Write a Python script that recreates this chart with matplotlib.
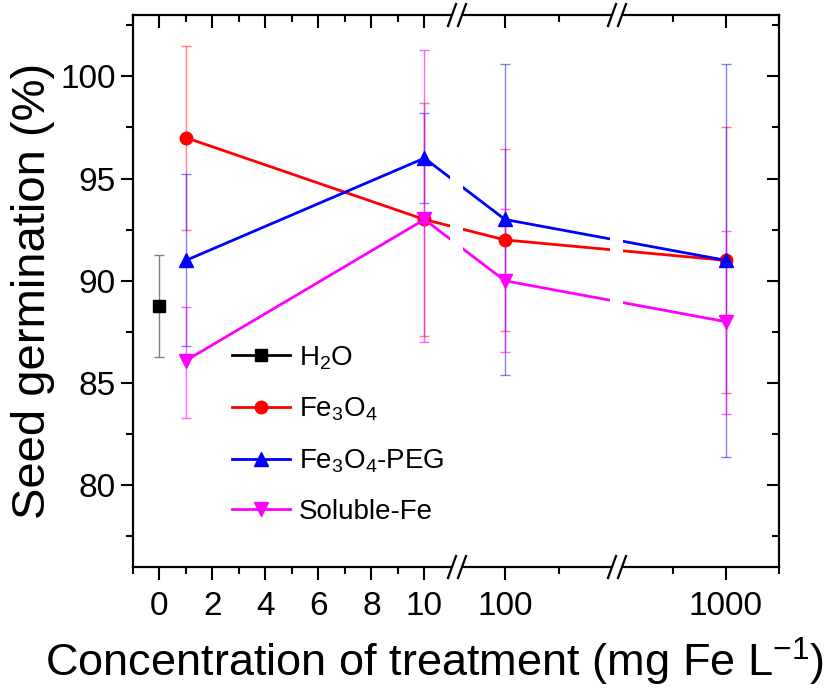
import numpy as np
import matplotlib
matplotlib.use("Agg")
import matplotlib.pyplot as plt
from matplotlib.patches import Rectangle
from matplotlib.lines import Line2D

plt.rcParams['font.family'] = ['Liberation Sans', 'DejaVu Sans']
plt.rcParams['mathtext.fontset'] = 'custom'
plt.rcParams['mathtext.rm'] = 'Liberation Sans'
plt.rcParams['mathtext.it'] = 'Liberation Sans:italic'

# data
conc = [1, 10, 100, 1000]
h2o_x, h2o_y, h2o_err = 0, 88.75, 2.5
fe3o4 = [97.0, 93.0, 92.0, 91.0]
fe3o4_err = [4.5, 5.7, 4.45, 6.5]
peg = [91.0, 96.0, 93.0, 91.0]
peg_err = [4.2, 2.2, 7.6, 9.6]
sol = [86.1, 93.0, 90.0, 88.0]
sol_err_lo = [2.8, 6.0, 3.5, 4.5]
sol_err_hi = [2.6, 8.3, 3.5, 4.45]

xticks = [0, 2, 4, 6, 8, 10, 100, 1000]
xminor = [-1, 1, 3, 5, 7, 9, 150, 750, 1250]

# broken x axis: three linear pieces glued together
seg_x = [-1, 11.23, 55.6, 203.7, 486, 1250]
seg_p = [0, 324, 324.01, 484, 484.01, 646]


def fwd(x):
    return np.interp(x, seg_x, seg_p)


def inv(p):
    return np.interp(p, seg_p, seg_x)


fig = plt.figure(figsize=(8.37, 6.99), dpi=100)
ax = fig.add_axes([0.1589, 0.1888, 0.7718, 0.7897])
ax.set_xscale('function', functions=(fwd, inv))

eb = dict(elinewidth=1, capsize=3.6, capthick=1, zorder=1.5)
ax.errorbar(h2o_x, h2o_y, yerr=h2o_err, fmt='none', ecolor='#808080', **eb)
ax.errorbar(conc, fe3o4, yerr=fe3o4_err, fmt='none', ecolor=(1, 0, 0, 0.5), **eb)
ax.errorbar(conc, peg, yerr=peg_err, fmt='none', ecolor=(0, 0, 1, 0.5), **eb)
ax.errorbar(conc, sol, yerr=[sol_err_lo, sol_err_hi], fmt='none',
            ecolor=(1, 0, 1, 0.6), **eb)

ax.plot([h2o_x], [h2o_y], 's', color='black', ms=8, label='H$_2$O', ls='-', lw=2)
ax.plot(conc, fe3o4, '-o', color='red', lw=2, ms=9, label='Fe$_3$O$_4$')
ax.plot(conc, peg, '-^', color='blue', lw=2, ms=10, label='Fe$_3$O$_4$-PEG')
ax.plot(conc, sol, '-v', color='magenta', lw=2, ms=10, label='Soluble-Fe')

ax.set_xlim(-1, 1250)
ax.set_ylim(76, 103)
ax.set_xticks(xticks)
ax.set_xticks(xminor, minor=True)
ax.set_yticks([80, 85, 90, 95, 100])
ax.set_yticks(np.arange(77.5, 103, 2.5), minor=True)
ax.tick_params(which='both', direction='out', width=1.5, labelsize=24)
ax.tick_params(which='major', length=9)
ax.tick_params(which='minor', length=5)
ax.tick_params(axis='x', pad=8)
for s in ax.spines.values():
    s.set_linewidth(1.6)

# inward ticks on top and right
axt = ax.twiny()
axt.set_xscale('function', functions=(fwd, inv))
axt.set_xlim(ax.get_xlim())
axt.set_xticks(xticks)
axt.set_xticks(xminor, minor=True)
axt.tick_params(which='both', direction='in', width=1.5, labeltop=False)
axt.tick_params(which='major', length=9)
axt.tick_params(which='minor', length=5)
axr = ax.twinx()
axr.set_ylim(ax.get_ylim())
axr.set_yticks([80, 85, 90, 95, 100])
axr.set_yticks(np.arange(77.5, 103, 2.5), minor=True)
axr.tick_params(which='both', direction='in', width=1.5, labelright=False)
axr.tick_params(which='major', length=9)
axr.tick_params(which='minor', length=5)
for a in (axt, axr):
    for s in a.spines.values():
        s.set_visible(False)

ax.set_xlabel('Concentration of treatment (mg Fe L$^{-1}$)', fontsize=32.5)
ax.xaxis.set_label_coords(0.4675, -0.125)
ax.set_ylabel('Seed germination (%)', fontsize=34)
ax.yaxis.set_label_coords(-0.121, 0.5)

# break marks and gaps in the lines
W, H = 646.0, 552.0
for bp in (324, 484):
    xc = bp / W
    ax.add_patch(Rectangle((xc - 7 / W, 0), 13 / W, 1, transform=ax.transAxes,
                           facecolor='white', edgecolor='none', zorder=2.2))
    for yc in (0, 1):
        ax.add_patch(Rectangle((xc - 5 / W, yc - 3 / H), 10 / W, 6 / H,
                               transform=ax.transAxes, facecolor='white',
                               edgecolor='none', zorder=3, clip_on=False))
        for off in (-5, 5):
            ax.add_line(Line2D([xc + (off - 4) / W, xc + (off + 4) / W],
                               [yc - 11 / H, yc + 11 / H], transform=ax.transAxes,
                               color='black', lw=1.6, zorder=4, clip_on=False))

ax.legend(loc='upper left', bbox_to_anchor=(0.153, 0.404), frameon=False,
          fontsize=20, handlelength=2.1, handletextpad=0.3, labelspacing=0.87,
          borderaxespad=0, borderpad=0)

fig.savefig('out.png', dpi=100)
